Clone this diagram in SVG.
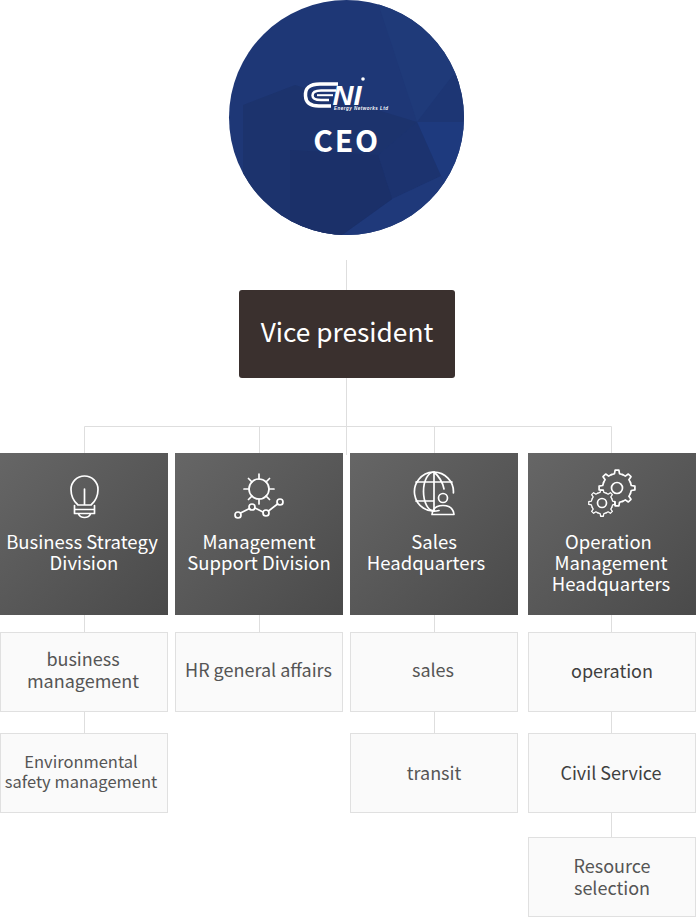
<svg xmlns="http://www.w3.org/2000/svg" width="696" height="917" viewBox="0 0 696 917">
<style>
text{font-family:"Noto Sans CJK KR","Noto Sans",sans-serif;text-anchor:middle}
.line{stroke:#dedede;stroke-width:1;fill:none}
.head{fill:url(#hg)}
.sub{fill:#fafafa;stroke:#e0e0e0;stroke-width:1}
.ht{font-size:18.5px;fill:#fff}
.st{font-size:18px;fill:#555}
.sm{font-size:16.500px}
.dk{fill:#3f3f3f}
.ic{fill:none;stroke:#fff;stroke-width:1.700;stroke-linecap:round;stroke-linejoin:round}
.ic path,.ic circle{vector-effect:non-scaling-stroke}
</style>
<defs>
<linearGradient id="hg" x1="0" y1="0" x2="1" y2="1"><stop offset="0" stop-color="#666"/><stop offset="1" stop-color="#4a4a4a"/></linearGradient>
<clipPath id="cc"><circle cx="346.500" cy="117.500" r="117.500"/></clipPath>
<path id="tooth" d="M-5.550-13.400L-2.520-14.280L-1.880-17.900H1.880L2.520-14.280L5.550-13.400"/>
<g id="gear">
<use href="#tooth"/>
<use href="#tooth" transform="rotate(45)"/>
<use href="#tooth" transform="rotate(90)"/>
<use href="#tooth" transform="rotate(135)"/>
<use href="#tooth" transform="rotate(180)"/>
<use href="#tooth" transform="rotate(225)"/>
<use href="#tooth" transform="rotate(270)"/>
<use href="#tooth" transform="rotate(315)"/>
</g>
</defs>
<g id="connectors">
<path class="line" d="M346.500 260V455M84.500 453V426.500H611.500V453M259.500 426.500V453M434.500 426.500V453"/>
<path class="line" d="M84.500 615V632M84.500 712V733M259.500 615V632M434.500 615V632M434.500 712V733M611.500 615V632M611.500 712V733M611.500 813V837"/>
</g>
<g id="ceo">
<circle cx="346.500" cy="117.500" r="117.500" fill="#1e3776"/>
<g clip-path="url(#cc)">
<polygon points="377,0 470,0 470,75 417,122" fill="#1f3a79"/>
<polygon points="417,122 453,75 470,75 470,122" fill="#1d3674"/>
<polygon points="417,122 470,122 470,235 441,176" fill="#1e3a7e"/>
<polygon points="417,122 441,176 392,199 378,155" fill="#1c336f"/>
<polygon points="392,199 441,176 470,235 335,240" fill="#1f397a"/>
<polygon points="243,105 295,85 417,122 378,155 392,199 335,240 243,240" fill="#1c336d"/>
<polygon points="290,150 378,155 392,199 335,240 290,240" fill="#1b3069"/>
</g>
<g fill="none" stroke="#fff">
<path d="M338 84H320Q304.500 84 305.500 96Q306 106.500 320 106H331" stroke-width="3.500"/>
<path d="M336 90.500H321Q312.500 90.500 312.500 95.500Q312.500 100 321 100H329" stroke-width="2.500"/>
<path d="M317 95.200H333" stroke-width="2"/>
</g>
<text x="347" y="105" font-size="27" font-weight="900" font-style="italic" fill="#fff" style="font-family:'Liberation Sans',sans-serif" textLength="29" lengthAdjust="spacingAndGlyphs">NI</text>
<circle cx="363" cy="79" r="1.800" fill="#fff"/>
<text x="361" y="109.500" font-size="4.500" font-weight="700" font-style="italic" fill="#fff" style="font-family:'Liberation Sans',sans-serif" textLength="54">Energy Networks Ltd</text>
<text x="346.500" y="152" font-size="30" font-weight="700" fill="#fff" letter-spacing="1.800">CEO</text>
</g>
<g id="vice-president">
<rect x="239" y="290" width="216" height="88" rx="3" fill="#3a302e"/>
<text x="347" y="342" font-size="26.300" font-weight="400" fill="#fff">Vice president</text>
</g>
<g id="business-strategy">
<rect class="head" x="0" y="453" width="168" height="162"/>
<g class="ic">
<path d="M78 505Q71 499 71 489.500A13.500 13.500 0 0 1 98 489.500Q98 499 91 505ZM84.500 489V505M74.500 509.500H94.500M74.500 513.500H94.500M74.500 505.500V513.500M94.500 505.500V513.500M78.500 514Q80 517.500 84.500 517.500Q89 517.500 90.500 514"/>
</g>
<text class="ht" x="82" y="549">Business Strategy</text>
<text class="ht" x="84" y="570">Division</text>
</g>
<g id="management-support">
<rect class="head" x="175" y="453" width="168" height="162"/>
<g class="ic">
<circle cx="259" cy="489" r="10"/>
<path d="M259 474V479M259 499V504M244 489H249M269 489H274M248.500 478.500L252 482M269.500 478.500L266 482M252 496L248.500 499.500M266 496L269.500 499.500"/>
<path d="M240.500 513L249.500 508.500M255 508L263 512M268.500 511L277.500 504"/>
<circle cx="238" cy="515" r="3"/><circle cx="252" cy="507" r="3"/><circle cx="266" cy="513" r="3"/><circle cx="280" cy="502" r="3"/>
</g>
<text class="ht" x="259" y="549">Management</text>
<text class="ht" x="259" y="570">Support Division</text>
</g>
<g id="sales-hq">
<rect class="head" x="350" y="453" width="168" height="162"/>
<g class="ic">
<path d="M439 510.500A19.500 19.500 0 1 1 453.400 493"/>
<path d="M416 482H452M416 501H433M434 472V511M434 472A10.500 19.500 0 0 0 434 511M434 472Q442 479 444 489"/>
<circle cx="443" cy="498" r="4.500"/>
<path d="M432 514.500Q433 505.500 443 505.500Q453 505.500 454 514.500Z"/>
</g>
<text class="ht" x="434" y="549">Sales</text>
<text class="ht" x="426" y="570">Headquarters</text>
</g>
<g id="operation-hq">
<rect class="head" x="528" y="453" width="168" height="162"/>
<g class="ic">
<use href="#gear" transform="translate(617 488)"/>
<circle cx="617" cy="488" r="5.500"/>
<circle cx="602" cy="503" r="12" fill="#5a5a5a" stroke="none"/>
<use href="#gear" transform="translate(602 503) scale(.74)"/>
<circle cx="602" cy="503" r="4.500"/>
</g>
<text class="ht" x="608.500" y="549">Operation</text>
<text class="ht" x="611" y="570">Management</text>
<text class="ht" x="611" y="591">Headquarters</text>
</g>
<g id="business-management">
<rect class="sub" x="0.500" y="632.500" width="167" height="79"/>
<text class="st" x="83" y="666">business</text>
<text class="st" x="83" y="688">management</text>
</g>
<g id="environmental-safety">
<rect class="sub" x="0.500" y="733.500" width="167" height="79"/>
<text class="st sm" x="81" y="768">Environmental</text>
<text class="st sm" x="81" y="788">safety management</text>
</g>
<g id="hr-general-affairs">
<rect class="sub" x="175.500" y="632.500" width="167" height="79"/>
<text class="st" x="258.500" y="677">HR general affairs</text>
</g>
<g id="sales">
<rect class="sub" x="350.500" y="632.500" width="167" height="79"/>
<text class="st" x="433" y="677">sales</text>
</g>
<g id="transit">
<rect class="sub" x="350.500" y="733.500" width="167" height="79"/>
<text class="st" x="434" y="780">transit</text>
</g>
<g id="operation">
<rect class="sub" x="528.500" y="632.500" width="167" height="79"/>
<text class="st dk" x="612" y="678">operation</text>
</g>
<g id="civil-service">
<rect class="sub" x="528.500" y="733.500" width="167" height="79"/>
<text class="st dk" x="611" y="780">Civil Service</text>
</g>
<g id="resource-selection">
<rect class="sub" x="528.500" y="837.500" width="167" height="79"/>
<text class="st" x="612" y="873">Resource</text>
<text class="st" x="612" y="895">selection</text>
</g>
</svg>
